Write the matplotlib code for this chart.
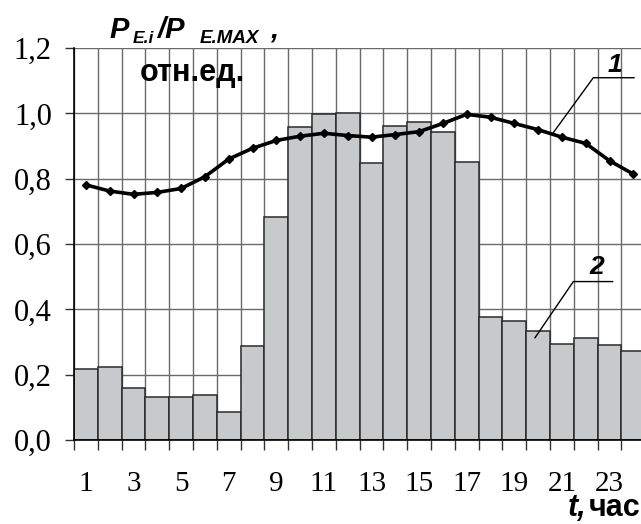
import numpy as np
import matplotlib
matplotlib.use('Agg')
import matplotlib.pyplot as plt

# hourly load, relative units
hours = np.arange(1, 25)
p_line = [0.781, 0.762, 0.752, 0.758, 0.770, 0.806, 0.860, 0.893, 0.917, 0.930,
          0.939, 0.932, 0.927, 0.935, 0.944, 0.969, 0.997, 0.988, 0.969, 0.950,
          0.927, 0.908, 0.855, 0.814]
p_bars = [0.217, 0.222, 0.160, 0.133, 0.133, 0.137, 0.087, 0.287, 0.684, 0.958,
          0.997, 1.000, 0.848, 0.961, 0.972, 0.943, 0.850, 0.376, 0.365, 0.334,
          0.294, 0.313, 0.291, 0.273]
y_ticks = [0.0, 0.2, 0.4, 0.6, 0.8, 1.0, 1.2]
y_ticklabels = ['0,0', '0,2', '0,4', '0,6', '0,8', '1,0', '1,2']
x_labels = [str(h) for h in hours if h % 2 == 1]

W, H = 641, 524
fig = plt.figure(figsize=(W / 100, H / 100), dpi=100)
ax = fig.add_axes([74 / W, (H - 440) / H, 571.2 / W, 392 / H])

serif = 'Liberation Serif'
sans = 'Liberation Sans'

ax.bar(hours, p_bars, width=1.0, color='#c8c9cb', edgecolor='#2a2a2a',
       linewidth=1.1, zorder=2)
ax.plot(hours, p_line, color='black', linewidth=2.6, marker='D', markersize=4.5,
        zorder=3)

ax.set_xlim(0.5, 24.5)
ax.set_ylim(0, 1.2)

# bar boundaries carry the ticks and the vertical grid
ax.set_xticks(np.arange(0.5, 25, 1.0))
ax.set_xticklabels([])
ax.set_xticks([h for h in hours if h % 2 == 1], minor=True)
ax.set_xticklabels(x_labels, minor=True, fontfamily=serif, fontsize=21)
ax.tick_params(axis='x', which='major', direction='out', length=7.2, width=1,
               color='#333333')
ax.tick_params(axis='x', which='minor', length=0, pad=22)

ax.set_yticks(y_ticks)
ax.set_yticklabels(y_ticklabels, fontfamily=serif, fontsize=22)
ax.tick_params(axis='y', direction='out', length=6.5, width=1, pad=9.5,
               color='#333333')

ax.grid(True, which='major', color='#6a6a6a', linewidth=1.0, zorder=0)
ax.set_axisbelow(True)
for s in ['top', 'right']:
    ax.spines[s].set_visible(False)
ax.spines['left'].set_linewidth(1.2)
ax.spines['bottom'].set_linewidth(1.2)

# leader lines for curve labels
ax.plot([20.63, 22.32, 24.03], [0.940, 1.109, 1.109], color='black',
        linewidth=1.0, zorder=4, clip_on=False)
ax.text(23.23, 1.148, '1', fontfamily=sans, fontweight='bold', style='italic',
        fontsize=19, ha='center', va='center')
ax.plot([19.87, 21.48, 23.13], [0.313, 0.485, 0.485], color='black',
        linewidth=1.0, zorder=4, clip_on=False)
ax.text(22.46, 0.530, '2', fontfamily=sans, fontweight='bold', style='italic',
        fontsize=19, ha='center', va='center')


def ftext(x, y, s, size, **kw):
    fig.text(x / W, 1 - y / H, s, fontfamily=sans, fontweight='bold',
             fontsize=size, va='baseline', ha='left', **kw)


ftext(109, 38, 'P', 21, style='italic')
ftext(133, 43, 'E.i', 12.5, style='italic')
ftext(157, 38, '/P', 21, style='italic')
ftext(200, 43, 'E.MAX', 13.5, style='italic')
ftext(270, 38, ',', 21, style='italic')
ftext(140, 81, 'отн.ед.', 22)
ftext(568, 516, 't,', 22, style='italic')
ftext(589, 516, 'час', 22)

fig.savefig('out.png', dpi=100)
